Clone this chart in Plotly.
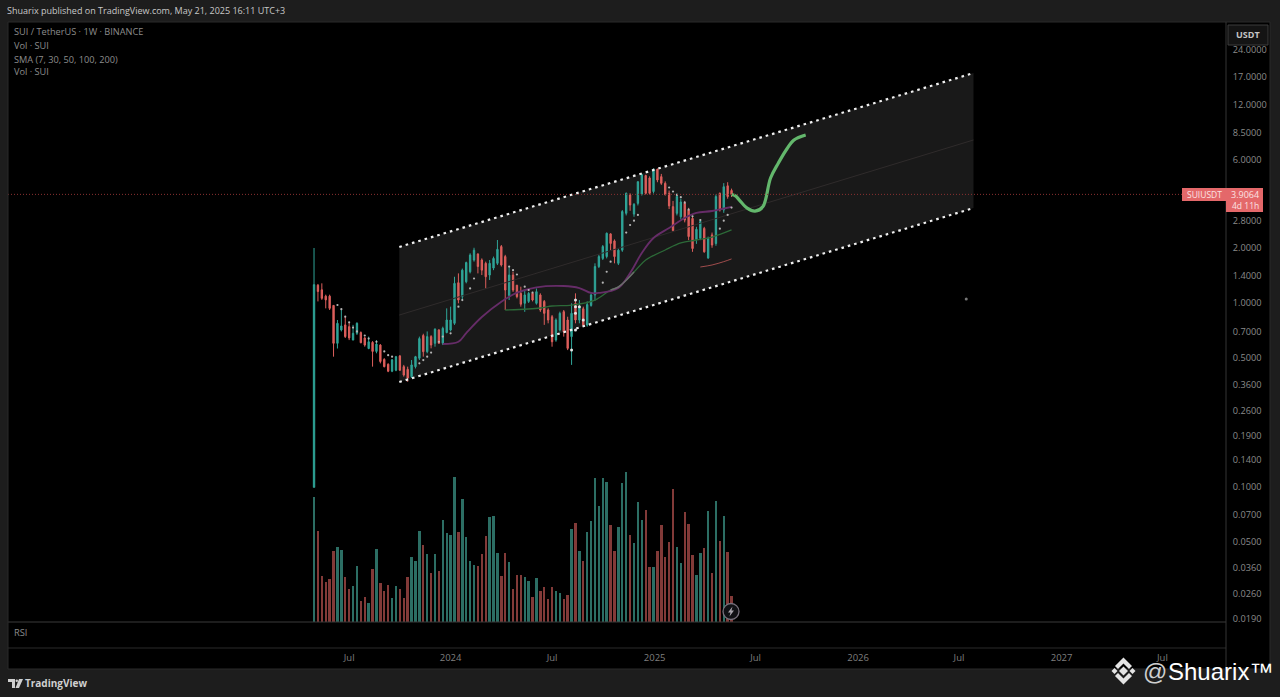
import pandas as pd
import plotly.graph_objects as go

W, H = 1280, 697
FIG_H = 699.5
week_start = "2023-05-01"
dates = pd.date_range(week_start, periods=108, freq="7D")

opens = [0.099,1.25,1.18,1.09,1.09,0.97,0.603,0.713,0.76,0.743,0.628,0.684,0.69,0.645,0.565,0.61,0.545,0.59,0.493,0.464,
         0.425,0.43,0.515,0.45,0.435,0.397,0.45,0.50,0.665,0.543,0.656,0.603,0.713,0.603,0.69,0.713,0.775,1.29,1.083,1.305,
         1.48,1.715,1.85,1.715,1.645,1.42,1.55,1.645,2.03,1.79,1.10,1.42,1.25,1.129,0.996,1.02,1.129,0.996,1.106,1.02,
         0.916,0.842,0.628,0.713,0.897,0.808,0.656,0.996,0.808,0.93,0.758,0.97,1.106,1.58,1.75,1.79,2.38,2.18,1.645,1.94,
         3.08,3.88,3.05,3.49,3.92,4.95,4.8,4.05,5.35,4.88,4.49,3.96,3.35,3.08,2.95,3.49,3.21,2.89,2.22,2.25,
         2.55,1.76,2.35,2.11,3.96,3.21,4.35,4.1]
highs = [1.994,1.27,1.28,1.11,1.11,0.975,0.808,0.916,0.842,0.78,0.76,0.785,0.70,0.656,0.656,0.62,0.628,0.597,0.50,0.469,
         0.495,0.515,0.52,0.46,0.45,0.489,0.515,0.656,0.68,0.70,0.668,0.728,0.72,0.743,0.935,0.955,1.39,1.45,1.54,1.68,
         1.865,2.0,1.865,1.75,1.68,1.715,1.79,2.204,2.07,1.83,1.58,1.48,1.255,1.227,1.177,1.15,1.15,1.2,1.129,1.038,
         0.935,0.86,0.825,0.897,0.916,0.842,0.996,1.129,1.038,0.955,1.02,1.129,1.645,1.83,2.07,2.42,2.40,2.22,1.98,3.21,
         4.0,3.96,3.5,4.6,5.05,5.0,4.9,5.4,5.4,5.05,4.6,4.1,3.6,3.95,3.7,3.6,3.3,2.95,2.6,2.85,
         2.6,2.3,2.42,3.9,4.0,4.5,4.55,4.2]
lows = [0.099,1.02,1.04,0.935,0.916,0.51,0.565,0.70,0.645,0.628,0.628,0.67,0.603,0.578,0.56,0.45,0.532,0.469,0.446,0.42,
        0.42,0.425,0.428,0.397,0.372,0.39,0.44,0.489,0.51,0.532,0.566,0.578,0.60,0.59,0.684,0.70,0.76,0.996,1.038,1.28,
        1.45,1.68,1.45,1.42,1.2,1.335,1.51,1.61,1.58,0.916,1.038,1.15,1.06,0.955,0.895,1.0,1.02,0.98,0.895,0.76,
        0.775,0.578,0.615,0.70,0.656,0.554,0.46,0.775,0.775,0.743,0.743,0.955,1.03,1.55,1.715,1.75,1.94,1.645,1.61,1.90,
        3.0,3.18,2.95,3.4,3.85,3.9,3.9,3.95,4.55,4.4,3.85,3.25,2.45,3.0,2.85,2.75,2.2,1.9,2.1,2.2,
        1.88,1.74,2.0,2.05,3.15,3.1,3.7,3.78]
closes = [1.259,1.155,1.06,1.04,0.935,0.603,0.775,0.75,0.656,0.645,0.684,0.775,0.608,0.59,0.615,0.545,0.597,0.48,0.45,0.425,
          0.49,0.51,0.43,0.405,0.39,0.46,0.51,0.64,0.543,0.656,0.59,0.72,0.603,0.728,0.808,0.808,1.28,1.038,1.51,1.66,
          1.825,1.94,1.58,1.51,1.39,1.645,1.75,1.96,1.61,1.177,1.42,1.177,1.083,0.985,1.106,1.129,1.038,1.153,0.916,0.878,
          0.808,0.615,0.808,0.878,0.698,0.566,0.878,0.808,0.955,0.758,0.98,1.106,1.58,1.79,2.03,2.40,2.11,1.79,1.94,3.15,
          3.96,3.42,3.45,4.58,5.0,3.96,3.96,5.35,4.68,4.49,3.9,3.38,2.48,3.8,3.55,2.83,2.30,1.98,2.52,2.78,
          1.90,2.25,2.07,3.8,3.21,4.3,3.8,3.9064]
volumes = [374,274,139,119,129,212,226,216,136,99,109,167,64,76,57,159,219,116,94,111,
           71,109,99,72,134,194,184,274,232,204,146,204,152,306,266,262,434,271,369,256,
           182,172,169,204,259,314,318,208,139,208,179,99,142,141,136,122,74,132,94,104,
           69,106,92,88,69,81,279,297,212,184,269,304,432,349,431,421,291,214,284,418,
           449,260,236,361,306,337,164,166,214,292,194,239,399,224,176,331,294,201,141,208,
           221,334,146,362,244,319,209,77]

sma30_weeks = [33,37,39,43,48,52,57,64,68,71,73,78,81,84,87,91,95,98,102,107]
sma30 = [0.598,0.615,0.686,0.839,1.016,1.138,1.218,1.238,1.207,1.134,1.134,1.207,1.457,1.873,2.261,2.563,2.906,3.094,3.172,3.336]
sma50_weeks = [49,58,61,66,72,76,78,82,85,90,94,98,102,107]
sma50 = [0.916,0.939,0.963,0.975,1.038,1.177,1.222,1.475,1.715,1.945,2.123,2.204,2.288,2.50]
overlap_weeks = [76,78,80,82]
overlap = [1.177,1.222,1.33,1.475]
sma100_weeks = [99,102,105,107]
sma100 = [1.571,1.611,1.68,1.738]

forecast_dates = ["2025-05-19","2025-05-26","2025-06-02","2025-06-16","2025-06-30","2025-07-14",
                  "2025-07-28","2025-08-11","2025-08-25","2025-09-08","2025-09-29"]
forecast = [3.90,3.83,3.64,3.29,3.17,3.34,4.80,5.79,6.82,7.73,8.23]

channel_dates = ["2023-10-01","2026-07-27"]
channel_top = [2.02,17.9]
channel_mid = [0.86,7.73]
channel_bottom = [0.371,3.29]

dot_weeks = [6,7,8,9,10,11,13,14,16,18,19,20,27,28,29,30,32,33,35,37,38,40,41,50,51,52,54,55,56,
             74,75,76,80,81,82,83,91,92,93,94,95,96,97,99,104,105,106,107]
dot_prices = [0.975,0.925,0.842,0.785,0.735,0.70,0.665,0.64,0.615,0.545,0.52,0.51,0.469,0.489,0.51,0.537,0.615,0.656,0.684,
              0.955,1.038,1.2,1.36,1.58,1.51,1.43,1.227,1.177,1.14,1.29,1.48,1.68,2.42,2.66,2.81,3.02,4.26,4.05,3.88,3.77,
              3.52,3.23,2.97,2.83,2.54,2.81,3.02,3.31]
bright_weeks = [67,67,68,67,69,67,66]
bright_prices = [1.038,0.955,0.955,0.878,0.808,0.713,0.554]

price_ticks = [24,17,12,8.5,6,2.8,2,1.4,1,0.7,0.5,0.36,0.26,0.19,0.14,0.1,0.07,0.05,0.036,0.026,0.019]
time_ticks = ["2023-07-03","2024-01-01","2024-07-01","2025-01-01","2025-07-01","2026-01-01","2026-07-01","2027-01-01","2027-07-01"]
time_labels = ["Jul","2024","Jul","2025","Jul","2026","Jul","2027","Jul"]
legend_lines = ["SUI / TetherUS · 1W · BINANCE","Vol · SUI","SMA (7, 30, 50, 100, 200)","Vol · SUI"]

TEAL, RED = "#2fa598", "#dd5f5c"
VOL_TEAL, VOL_RED = "#2c6e64", "#823a38"
FONT = "Open Sans"
LOG_RANGE = [-1.738, 1.531]


def fx(p):
    return p / W


def fy(p):
    return 1 - p / H


def weeks(idx):
    return [dates[i] for i in idx]


def poly(points, fill):
    path = "M " + " L ".join(f"{fx(x):.5f},{fy(y):.5f}" for x, y in points) + " Z"
    return dict(type="path", xref="paper", yref="paper", path=path, fillcolor=fill, line_width=0, layer="above")


def rect(x0, y0, x1, y1, fill=None, line=None, layer="above", width=1):
    return dict(type="rect", xref="paper", yref="paper", x0=fx(x0), x1=fx(x1), y0=fy(y1), y1=fy(y0),
                fillcolor=fill or "rgba(0,0,0,0)", line=dict(color=line or "rgba(0,0,0,0)", width=width), layer=layer)


def hline(y, x0, x1, color="#2b2b2b"):
    return dict(type="line", xref="paper", yref="paper", x0=fx(x0), x1=fx(x1), y0=fy(y), y1=fy(y),
                line=dict(color=color, width=1), layer="above")


def vline(x, y0, y1, color="#2b2b2b"):
    return dict(type="line", xref="paper", yref="paper", x0=fx(x), x1=fx(x), y0=fy(y0), y1=fy(y1),
                line=dict(color=color, width=1), layer="above")


def label(x, y, text, size=9.5, color="#8c8c8c", anchor="left", family=FONT):
    return dict(xref="paper", yref="paper", x=fx(x), y=fy(y), text=text, showarrow=False, xanchor=anchor,
                yanchor="middle", font=dict(family=family, size=size, color=color), borderpad=0, borderwidth=0)


fig = go.Figure()

fig.add_scatter(x=channel_dates + channel_dates[::-1], y=channel_top + channel_bottom[::-1], yaxis="y",
                mode="lines", line_width=0, fill="toself", fillcolor="#191919", hoverinfo="skip", name="Channel")

fig.add_bar(x=dates, y=volumes, yaxis="y2", width=3.7e8, marker_line_width=0,
            marker_color=[VOL_TEAL if c >= o else VOL_RED for o, c in zip(opens, closes)], name="Vol")

fig.add_candlestick(x=dates, open=opens, high=highs, low=lows, close=closes, yaxis="y3",
                    increasing=dict(line=dict(color=TEAL, width=1), fillcolor=TEAL),
                    decreasing=dict(line=dict(color=RED, width=1), fillcolor=RED), name="SUIUSDT")

fig.add_scatter(x=channel_dates, y=channel_mid, yaxis="y3", mode="lines", line=dict(color="#2f2b2b", width=1))
for band in (channel_top, channel_bottom):
    fig.add_scatter(x=channel_dates, y=band, yaxis="y3", mode="lines",
                    line=dict(color="#f0f0f0", width=2.2, dash="2.6px,4px"))

fig.add_scatter(x=weeks(sma100_weeks), y=sma100, yaxis="y3", mode="lines",
                line=dict(color="#a04c4c", width=1, shape="spline"))
fig.add_scatter(x=weeks(sma50_weeks), y=sma50, yaxis="y3", mode="lines",
                line=dict(color="#2c6a38", width=1.3, shape="spline"))
fig.add_scatter(x=weeks(sma30_weeks), y=sma30, yaxis="y3", mode="lines",
                line=dict(color="#662c68", width=1.8, shape="spline"))
fig.add_scatter(x=weeks(overlap_weeks), y=overlap, yaxis="y3", mode="lines",
                line=dict(color="#6b6b6b", width=1.6, shape="spline"))

fig.add_scatter(x=weeks(dot_weeks), y=dot_prices, yaxis="y3", mode="markers",
                marker=dict(color="#b5b5b5", size=2.2))
fig.add_scatter(x=weeks(bright_weeks), y=bright_prices, yaxis="y3", mode="markers",
                marker=dict(color="#e6e6e6", size=3))
fig.add_scatter(x=["2026-07-14"], y=[1.05], yaxis="y3", mode="markers", marker=dict(color="#777777", size=3))
fig.add_scatter(x=forecast_dates, y=forecast, yaxis="y3", mode="lines",
                line=dict(color="#63b76c", width=3.2, shape="spline", smoothing=1))

pane = [(H - 622) / H, (H - 22) / H]

shapes = [
    rect(8, 622, 1270, 669, fill="#000000", layer="below"),
    rect(1226, 22, 1270, 669, fill="#000000", layer="below"),
    dict(type="line", xref="paper", yref="y3", x0=fx(8), x1=fx(1226), y0=closes[-1], y1=closes[-1],
         line=dict(color="#8a3030", width=1, dash="1px,2px"), layer="above"),
    hline(22, 8, 1270), hline(622, 8, 1226, "#3a3a3a"), hline(648, 8, 1226), hline(669, 8, 1270),
    vline(8, 22, 669), vline(1226, 22, 669, "#343434"), vline(1270, 22, 669),
    rect(1228, 25, 1268, 45, fill="#141414", line="#3c3c3c"),
    rect(1182, 188, 1226, 201, fill="#e4686a"),
    rect(1226, 188, 1263, 212, fill="#e4686a"),
    dict(type="circle", xref="paper", yref="paper", x0=fx(723), x1=fx(739), y0=fy(619.5), y1=fy(603.5),
         fillcolor="#101014", line=dict(color="#77707c", width=1.3), layer="above"),
    poly([(732.5, 606.5), (728, 612.5), (730.5, 612.5), (729.5, 616.5), (734, 610.5), (731.5, 610.5)], "#a8a4ac"),
    poly([(8, 679), (15, 679), (15, 688), (12, 688), (12, 682), (8, 682)], "#cfcfcf"),
    dict(type="circle", xref="paper", yref="paper", x0=fx(15.5), x1=fx(18), y0=fy(682), y1=fy(679.5),
         fillcolor="#cfcfcf", line_width=0, layer="above"),
    poly([(19, 679), (23, 679), (19, 688), (15.5, 688)], "#cfcfcf"),
    poly([(1123.5, 666.5), (1128, 671), (1123.5, 675.5), (1119, 671)], "#e4e4e4"),
    poly([(1114.5, 668), (1117.5, 671), (1114.5, 674), (1111.5, 671)], "#e4e4e4"),
    poly([(1132.5, 668), (1135.5, 671), (1132.5, 674), (1129.5, 671)], "#e4e4e4"),
    poly([(1123.5, 657.5), (1132, 666), (1129, 669), (1123.5, 663.5), (1118, 669), (1115, 666)], "#e4e4e4"),
    poly([(1123.5, 684.5), (1115, 676), (1118, 673), (1123.5, 678.5), (1129, 673), (1132, 676)], "#e4e4e4"),
]

annotations = [label(7, 10.5, "Shuarix published on TradingView.com, May 21, 2025 16:11 UTC+3", 9, "#c8c8c8")]
for row, text in zip((32, 45.5, 59, 72), legend_lines):
    annotations.append(label(14, row, text, 9.2))
annotations += [
    label(14, 632.5, "RSI", 9.3),
    label(1248, 35, "<b>USDT</b>", 9, "#c4c4c4", "center"),
    label(1204, 194.5, "SUIUSDT", 8.5, "#fbe3e3", "center"),
    label(1245, 194.5, "3.9064", 9, "#fbe3e3", "center"),
    label(1245, 205, "4d 11h", 8.5, "#fbe3e3", "center"),
    label(25, 683, "<b>TradingView</b>", 10, "#d0d0d0"),
    label(1143, 671, "@", 24, "#cfcfcf", family="Liberation Sans"),
    label(1168, 671, "Shuarix™", 24, "#ffffff", family="Liberation Sans"),
]

fig.update_layout(
    width=W, height=FIG_H, autosize=False, margin=dict(l=0, r=0, t=0, b=0),
    paper_bgcolor="#1d1d1d", plot_bgcolor="#000000", showlegend=False, bargap=0, boxgap=0.5,
    shapes=shapes, annotations=annotations, hovermode=False,
    xaxis=dict(type="date", domain=[8 / W, 1226 / W], range=["2021-10-29", "2027-10-23"],
               anchor="free", position=(H - 647) / H, rangeslider_visible=False, showgrid=False, zeroline=False,
               tickmode="array", tickvals=time_ticks, ticktext=time_labels, ticks="outside", ticklen=2,
               tickcolor="rgba(0,0,0,0)", tickfont=dict(family=FONT, size=9.5, color="#7f7f7f")),
    yaxis=dict(domain=pane, type="log", range=LOG_RANGE, visible=False, showgrid=False, zeroline=False),
    yaxis2=dict(domain=pane, range=[0, 1800], overlaying="y", visible=False, showgrid=False, zeroline=False),
    yaxis3=dict(domain=pane, type="log", range=LOG_RANGE, overlaying="y", side="right", anchor="x",
                showgrid=False, zeroline=False, tickmode="array", tickvals=price_ticks,
                ticktext=[f"{v:.4f}" for v in price_ticks], ticks="outside", ticklen=4,
                tickcolor="rgba(0,0,0,0)", tickfont=dict(family=FONT, size=9.2, color="#8a8a8a")),
)

fig.write_html(
    "out.html",
    config={"displayModeBar": False},
    post_script="var s=document.body.style;s.margin='0';s.background='#1d1d1d';s.overflow='hidden';"
                "document.documentElement.style.overflow='hidden';",
)
